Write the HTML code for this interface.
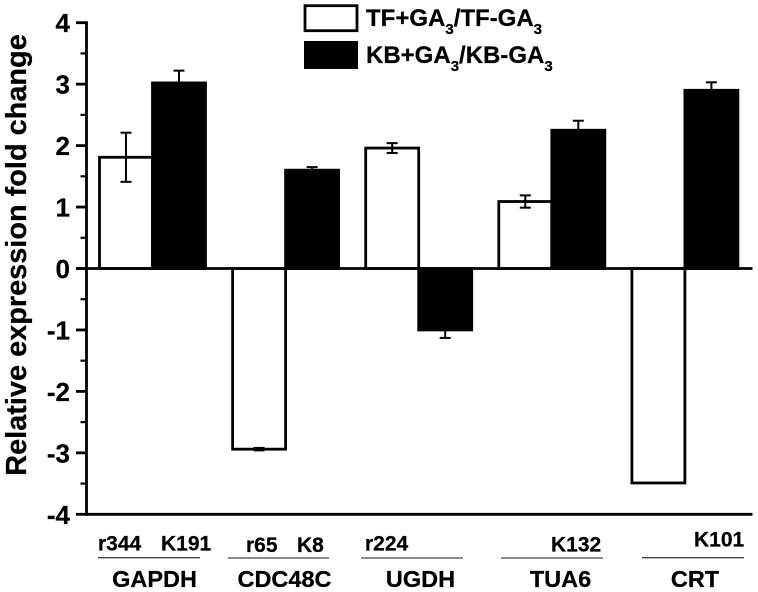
<!DOCTYPE html>
<html>
<head>
<meta charset="utf-8">
<style>
html,body{margin:0;padding:0;background:#fff;}
svg{display:block;filter:blur(0.35px);}
text{font-family:"Liberation Sans",Arial,sans-serif;font-weight:bold;fill:#000;stroke:#000;stroke-width:0.25px;}
</style>
</head>
<body>
<svg id="chart" xmlns="http://www.w3.org/2000/svg" width="758" height="592" viewBox="0 0 758 592">
  <g id="bars"></g>
  <g id="axes"></g>
  <text x="0" y="0" transform="translate(26,255) rotate(-90)" text-anchor="middle" font-size="28.9">Relative expression fold change</text>

  <g>
    <rect x="305" y="5.7" width="52" height="25" fill="#fff" stroke="#000" stroke-width="2.8"></rect>
    <text x="366" y="26" font-size="24">TF+GA<tspan font-size="15" dy="8">3</tspan><tspan dy="-8">/TF-GA</tspan><tspan font-size="15" dy="8">3</tspan></text>
    <rect x="304" y="41" width="54" height="28" fill="#000"></rect>
    <text x="366" y="63" font-size="24">KB+GA<tspan font-size="15" dy="8">3</tspan><tspan dy="-8">/KB-GA</tspan><tspan font-size="15" dy="8">3</tspan></text>
  </g>

  <g font-size="21">
    <text x="98" y="550.7">r344</text>
    <text x="161" y="550.7">K191</text>
    <text x="246" y="552">r65</text>
    <text x="297" y="552">K8</text>
    <text x="365" y="550.7">r224</text>
    <text x="551" y="551.7">K132</text>
    <text x="694" y="546.7">K101</text>
  </g>
  <g stroke="#444" stroke-width="1.3">
    <line x1="98" x2="200" y1="557.7" y2="557.7"></line>
    <line x1="228" x2="329" y1="558" y2="558"></line>
    <line x1="361" x2="463" y1="558" y2="558"></line>
    <line x1="501" x2="603" y1="558" y2="558"></line>
    <line x1="642" x2="744" y1="557.7" y2="557.7"></line>
  </g>
  <g font-size="23.5">
    <text x="154.5" y="587" text-anchor="middle">GAPDH</text>
    <text x="284.5" y="587" text-anchor="middle">CDC48C</text>
    <text x="420.5" y="587" text-anchor="middle">UGDH</text>
    <text x="560.5" y="587" text-anchor="middle">TUA6</text>
    <text x="695" y="587" text-anchor="middle">CRT</text>
  </g>
</svg>
<script>
const categories = ["GAPDH", "CDC48C", "UGDH", "TUA6", "CRT"];
const tfValues = [1.81, -2.94, 1.96, 1.09, -3.49];
const tfErrors = [0.40, 0.02, 0.08, 0.10, 0];
const kbValues = [3.02, 1.60, -1.00, 2.25, 2.90];
const kbErrors = [0.20, 0.05, 0.13, 0.155, 0.13];
const yTicks = [-4, -3, -2, -1, 0, 1, 2, 3, 4];
const yMinorTicks = [-3.5, -2.5, -1.5, -0.5, 0.5, 1.5, 2.5, 3.5];

const NS = "http://www.w3.org/2000/svg";
const barsG = document.getElementById("bars");
const axesG = document.getElementById("axes");

function yScale(v) { return 268.5 - v * 61.45; }
function xScale(groupIndex) { return 99.5 + groupIndex * 133.1; }
const barWidth = 53;

function make(parent, tag, attrs) {
  const el = document.createElementNS(NS, tag);
  Object.keys(attrs).forEach(function (k) { el.setAttribute(k, attrs[k]); });
  parent.appendChild(el);
  return el;
}

function drawError(x, value, err, dir, name) {
  if (!err) return;
  const top = yScale(value + err);
  const bot = yScale(value - err);
  const capW = 5.5;
  const y1 = dir === "both" ? top : yScale(value);
  const y2 = dir === "both" ? bot : (value >= 0 ? top : bot);
  const stem = make(barsG, "line", { x1: x, x2: x, y1: y1, y2: y2, stroke: "#000", "stroke-width": 2 });
  
  
  const cap1 = make(barsG, "line", { x1: x - capW, x2: x + capW, y1: y2, y2: y2, stroke: "#000", "stroke-width": 2 });
  
  
  if (dir === "both") {
    const cap2 = make(barsG, "line", { x1: x - capW, x2: x + capW, y1: y1, y2: y1, stroke: "#000", "stroke-width": 2 });
    
    
  }
}

categories.forEach(function (cat, i) {
  const x0 = xScale(i);
  const tfV = tfValues[i];
  const tfY = Math.min(yScale(tfV), yScale(0));
  const tfH = Math.abs(yScale(tfV) - yScale(0));
  const tfBar = make(barsG, "rect", { x: x0, y: tfY, width: barWidth, height: tfH, fill: "#fff", stroke: "#000", "stroke-width": 2.8 });
  
  

  const kbV = kbValues[i];
  const kbY = Math.min(yScale(kbV), yScale(0));
  const kbH = Math.abs(yScale(kbV) - yScale(0));
  const kbBar = make(barsG, "rect", { x: x0 + barWidth, y: kbY, width: barWidth, height: kbH, fill: "#000", stroke: "#000", "stroke-width": 2.8 });
  
  

  drawError(x0 + barWidth / 2, tfV, tfErrors[i], "both", 'tf-' + cat.toLowerCase());
  drawError(x0 + barWidth * 1.5, kbV, kbErrors[i], "one", 'kb-' + cat.toLowerCase());
});

const yAxisLine = make(axesG, "line", { x1: 86.5, x2: 86.5, y1: yScale(4) - 1.4, y2: yScale(-4) + 1.4, stroke: "#000", "stroke-width": 2.8 });



const zeroLine = make(axesG, "line", { x1: 76, x2: 752.5, y1: yScale(0), y2: yScale(0), stroke: "#000", "stroke-width": 2.8 });



const bottomLine = make(axesG, "line", { x1: 86, x2: 752.5, y1: yScale(-4), y2: yScale(-4), stroke: "#000", "stroke-width": 2.8 });



yTicks.forEach(function (t) {
  const y = yScale(t);
  const tick = make(axesG, "line", { x1: 76, x2: 86.5, y1: y, y2: y, stroke: "#000", "stroke-width": 2.8 });
  
  
  const label = make(axesG, "text", { x: 70, y: y + 9.5, "text-anchor": "end", "font-size": 26 });
  label.textContent = String(t);
  
  
});

yMinorTicks.forEach(function (t) {
  const y = yScale(t);
  const tick = make(axesG, "line", { x1: 80.5, x2: 86.5, y1: y, y2: y, stroke: "#000", "stroke-width": 2.2 });
  
  
});
</script>
</body>
</html>
